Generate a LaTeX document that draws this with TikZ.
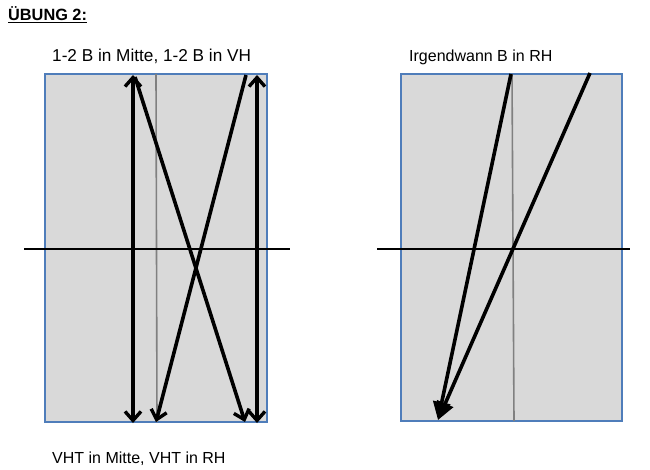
\documentclass[tikz,border=0pt]{standalone}
\usepackage{fontspec}
\setmainfont{Liberation Sans}
\usetikzlibrary{arrows.meta}
\definecolor{boxfill}{HTML}{D9D9D9}
\definecolor{boxline}{HTML}{4F7DBA}
\definecolor{midgray}{HTML}{808080}
\begin{document}
\begin{tikzpicture}[x=1pt,y=-1pt,
  panel/.style={fill=boxfill,draw=boxline,line width=1.8pt},
  axis/.style={draw=black,line width=1.6pt},
  midline/.style={draw=midgray,line width=1.6pt},
  vecbarb/.style={line width=3.6pt,-{Straight Barb[length=9pt,width=16pt,line width=3.4pt]}},
  vecbarbboth/.style={line width=3.6pt,{Straight Barb[length=9pt,width=16pt,line width=3.4pt]}-{Straight Barb[length=9pt,width=16pt,line width=3.4pt]}},
  vectri/.style={line width=3.6pt,-{Triangle[length=18pt,width=17pt]}},
  lbl/.style={anchor=base west,inner sep=0pt,font=\fontsize{16}{18}\selectfont}]
\useasboundingbox (0,0) rectangle (650,470);
% title
\node[anchor=base west,inner sep=0pt,font=\fontsize{16.3}{18}\selectfont\bfseries] (title) at (8,21) {\underline{ÜBUNG 2:}};
% left panel
\node[lbl,font=\fontsize{17.2}{19}\selectfont] (ltop) at (52,62) {1-2 B in Mitte, 1-2 B in VH};
\node[lbl] (lbot) at (52,463) {VHT in Mitte, VHT in RH};
\path[panel] (45,74) rectangle (267,422);
\coordinate (lm1) at (156,74);
\coordinate (lm2) at (157,422);
\draw[midline] (lm1) -- (lm2);
\coordinate (lh1) at (24,249);
\coordinate (lh2) at (290,249);
\draw[axis] (lh1) -- (lh2);
\coordinate (v1t) at (133,75);
\coordinate (v1b) at (133,423);
\coordinate (v2t) at (257,75);
\coordinate (v2b) at (257,423);
\draw[vecbarbboth] (v1t) -- (v1b);
\draw[vecbarbboth] (v2t) -- (v2b);
\coordinate (d1t) at (135,77);
\coordinate (d1b) at (245,422);
\coordinate (d2t) at (246,75);
\coordinate (d2b) at (156,422);
\draw[vecbarb] (d1t) -- (d1b);
\draw[vecbarb] (d2t) -- (d2b);
% right panel
\node[lbl] (rtop) at (409,61.5) {Irgendwann B in RH};
\path[panel] (401,74) rectangle (622,421);
\coordinate (rm1) at (512,74);
\coordinate (rm2) at (514,421);
\draw[midline] (rm1) -- (rm2);
\coordinate (rh1) at (377,249);
\coordinate (rh2) at (630,249);
\draw[axis] (rh1) -- (rh2);
\coordinate (r1t) at (511,74);
\coordinate (r2t) at (590,73);
\coordinate (rtip) at (438,420);
\draw[vectri] (r1t) -- (rtip);
\draw[vectri] (r2t) -- (rtip);
\end{tikzpicture}
\end{document}
